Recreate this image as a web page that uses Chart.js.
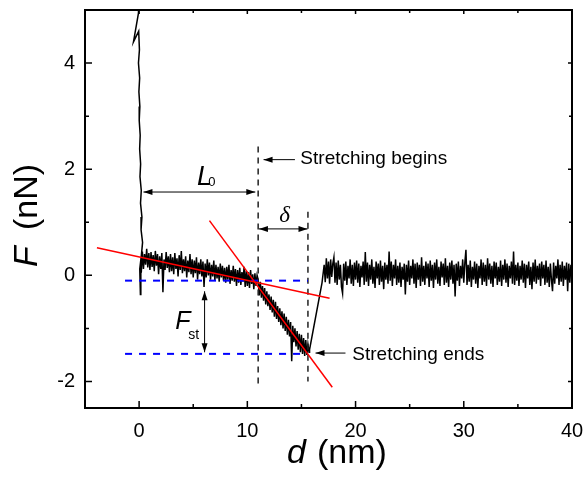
<!DOCTYPE html>
<html><head><meta charset="utf-8">
<script src="https://cdn.jsdelivr.net/npm/chart.js@4"></script>
<style>html,body{margin:0;padding:0;background:#fff}#wrap{width:587px;height:480px}</style>
</head><body><div id="wrap"><canvas id="c" width="587" height="480"></canvas></div>
<script>
// ---------- data (x: d in nm, y: F in nN) ----------
const xTickLabels = [0, 10, 20, 30, 40];
const xMinorTicks = [5, 15, 25, 35];
const yTickLabels = [-2, 0, 2, 4];
const yMinorTicks = [-1, 1, 3];

const riseCurve = [[0.00,5.40],[-0.06,4.94],[-0.52,4.40],[-0.04,4.60],[0.03,4.25],[-0.06,4.00],[0.05,3.72],[-0.02,3.46],[0.07,3.18],[0.01,2.92],[0.10,2.64],[0.05,2.38],[0.14,2.10],[0.08,1.86],[0.20,1.60],[0.13,1.36],[0.26,1.10],[0.18,0.86],[0.32,0.62],[0.22,0.40],[0.06,0.12],[0.12,-0.36],[0.16,0.20]];
const preStretch = [[0.2,0.05],[0.3,0.45],[0.4,0.12],[0.5,0.40],[0.6,0.20],[0.7,0.50],[0.8,0.15],[0.9,0.42],
[1.0,0.10],[1.1,0.44],[1.2,0.16],[1.3,0.38],[1.4,0.08],[1.5,0.46],[1.6,0.18],[1.7,0.40],[1.8,0.02],[1.9,0.36],
[2.0,0.12],[2.1,0.42],[2.2,-0.32],[2.3,0.30],[2.4,0.10],[2.5,0.44],[2.6,0.14],[2.7,0.36],[2.8,0.06],[2.9,0.40],
[3.0,0.08],[3.1,0.34],[3.2,0.02],[3.3,0.42],[3.4,0.12],[3.5,0.32],[3.6,-0.02],[3.7,0.38],[3.8,0.10],[3.9,0.46],
[4.0,0.04],[4.1,0.30],[4.2,0.08],[4.3,0.36],[4.4,-0.04],[4.5,0.28],[4.6,0.06],[4.7,0.40],[4.8,0.02],[4.9,0.30],
[5.0,-0.04],[5.1,0.28],[5.2,0.04],[5.3,0.34],[5.4,-0.08],[5.5,0.24],[5.6,0.02],[5.7,0.30],[5.8,-0.02],[5.9,0.26],
[6.0,-0.22],[6.1,0.22],[6.2,-0.04],[6.3,0.30],[6.4,0.00],[6.5,0.24],[6.6,-0.08],[6.7,0.20],[6.8,-0.02],[6.9,0.28],
[7.0,-0.10],[7.1,0.20],[7.2,-0.06],[7.3,0.16],[7.4,-0.12],[7.5,0.22],[7.6,-0.04],[7.7,0.18],[7.8,-0.10],[7.9,0.14],
[8.0,-0.14],[8.1,0.16],[8.2,-0.08],[8.3,0.20],[8.4,-0.16],[8.5,0.10],[8.6,-0.10],[8.7,0.18],[8.8,-0.12],[8.9,0.12],
[9.0,-0.20],[9.1,0.10],[9.2,-0.14],[9.3,0.14],[9.4,-0.18],[9.5,0.06],[9.6,-0.12],[9.7,0.16],[9.8,-0.22],[9.9,0.08],
[10.0,-0.20],[10.1,0.06],[10.2,-0.24],[10.3,0.10],[10.4,-0.16],[10.5,0.02],[10.6,-0.26],[10.7,0.04],[10.8,-0.20],[10.9,0.00]];
const stretchPart = [[11.0,-0.08],[11.1,-0.38],[11.2,-0.12],[11.3,-0.42],[11.4,-0.20],[11.5,-0.48],[11.6,-0.24],[11.7,-0.55],[11.8,-0.30],[11.9,-0.58],
[12.0,-0.36],[12.1,-0.65],[12.2,-0.40],[12.3,-0.70],[12.4,-0.46],[12.5,-0.78],[12.6,-0.50],[12.7,-0.82],[12.8,-0.58],[12.9,-0.88],
[13.0,-0.62],[13.1,-0.94],[13.2,-0.68],[13.3,-1.00],[13.4,-0.72],[13.5,-1.05],[13.6,-0.78],[13.7,-1.12],[13.8,-0.84],[13.9,-1.15],
[14.0,-0.88],[14.1,-1.62],[14.2,-0.95],[14.3,-1.26],[14.4,-1.00],[14.5,-1.34],[14.6,-1.05],[14.7,-1.40],[14.8,-1.10],[14.9,-1.45],
[15.0,-1.12],[15.1,-1.48],[15.2,-1.18],[15.3,-1.52],[15.4,-1.22],[15.5,-1.50],[15.6,-1.30],[15.7,-1.45]];
const releaseJump = [[15.75,-1.40],[16.9,-0.14]];
const postRelease = [[17.1,0.20],[17.2,-0.13],[17.3,0.32],[17.4,-0.06],[17.5,0.26],[17.6,-0.16],[17.7,0.30],[17.8,-0.03],[17.9,0.22],
[18.0,0.34],[18.1,-0.14],[18.2,0.24],[18.3,-0.18],[18.4,0.28],[18.5,-0.08],[18.6,0.20],[18.7,-0.22],[18.8,-0.34],[18.9,0.22],
[19.0,-0.10],[19.1,0.26],[19.2,-0.18],[19.3,0.18],[19.4,-0.06],[19.5,0.30],[19.6,-0.16],[19.7,0.20],[19.8,-0.20],[19.9,0.24],
[20.0,-0.08],[20.1,0.28],[20.2,-0.14],[20.3,0.22],[20.4,-0.22],[20.5,0.18],[20.6,-0.04],[20.7,0.26],[20.8,-0.18],[20.9,0.44],
[21.0,-0.12],[21.1,0.24],[21.2,-0.20],[21.3,0.20],[21.4,-0.08],[21.5,0.30],[21.6,-0.16],[21.7,0.16],[21.8,-0.24],[21.9,0.26],
[22.0,-0.06],[22.1,0.22],[22.2,-0.18],[22.3,0.28],[22.4,-0.12],[22.5,0.18],[22.6,-0.26],[22.7,0.24],[22.8,-0.08],[22.9,0.20],
[23.0,-0.16],[23.1,0.45],[23.2,-0.10],[23.3,0.26],[23.4,-0.20],[23.5,0.20],[23.6,-0.06],[23.7,0.30],[23.8,-0.18],[23.9,0.18],
[24.0,-0.14],[24.1,0.24],[24.2,-0.22],[24.3,0.16],[24.4,-0.08],[24.5,0.22],[24.6,-0.36],[24.7,0.20],[24.8,-0.12],[24.9,0.28],
[25.0,-0.18],[25.1,0.18],[25.2,-0.06],[25.3,0.30],[25.4,-0.16],[25.5,0.22],[25.6,-0.24],[25.7,0.24],[25.8,-0.08],[25.9,0.20],
[26.0,-0.20],[26.1,0.34],[26.2,-0.12],[26.3,0.18],[26.4,-0.18],[26.5,0.26],[26.6,-0.06],[26.7,0.22],[26.8,-0.22],[26.9,0.28],
[27.0,-0.10],[27.1,0.20],[27.2,-0.24],[27.3,0.24],[27.4,-0.08],[27.5,0.30],[27.6,-0.16],[27.7,0.16],[27.8,-0.20],[27.9,0.26],
[28.0,-0.04],[28.1,0.22],[28.2,-0.18],[28.3,0.32],[28.4,-0.14],[28.5,0.18],[28.6,-0.22],[28.7,0.24],[28.8,-0.08],[28.9,0.28],
[29.0,-0.16],[29.1,0.20],[29.2,-0.40],[29.3,0.22],[29.4,-0.10],[29.5,0.26],[29.6,-0.20],[29.7,0.18],[29.8,-0.06],[29.9,0.30],
[30.0,-0.14],[30.1,0.24],[30.2,0.48],[30.3,-0.18],[30.4,0.20],[30.5,-0.12],[30.6,0.28],[30.7,-0.22],[30.8,0.16],[30.9,-0.08],
[31.0,0.26],[31.1,-0.16],[31.2,0.22],[31.3,-0.24],[31.4,0.18],[31.5,-0.06],[31.6,0.30],[31.7,-0.18],[31.8,0.24],[31.9,-0.12],
[32.0,0.20],[32.1,-0.20],[32.2,0.32],[32.3,-0.08],[32.4,0.22],[32.5,-0.16],[32.6,0.18],[32.7,-0.22],[32.8,0.26],[32.9,-0.06],
[33.0,0.24],[33.1,-0.18],[33.2,0.16],[33.3,-0.12],[33.4,0.28],[33.5,-0.20],[33.6,0.20],[33.7,-0.08],[33.8,0.30],[33.9,-0.14],
[34.0,0.22],[34.1,-0.22],[34.2,0.18],[34.3,-0.06],[34.4,0.26],[34.5,-0.16],[34.6,0.45],[34.7,-0.18],[34.8,0.20],[34.9,-0.10],
[35.0,0.24],[35.1,-0.20],[35.2,0.18],[35.3,-0.08],[35.4,0.28],[35.5,-0.14],[35.6,0.22],[35.7,-0.24],[35.8,0.20],[35.9,-0.06],
[36.0,0.26],[36.1,-0.18],[36.2,0.16],[36.3,-0.26],[36.4,0.24],[36.5,-0.12],[36.6,0.30],[36.7,-0.16],[36.8,0.18],[36.9,-0.08],
[37.0,0.22],[37.1,-0.20],[37.2,0.26],[37.3,-0.06],[37.4,0.20],[37.5,-0.18],[37.6,0.28],[37.7,-0.14],[37.8,0.16],[37.9,-0.22],
[38.0,0.22],[38.1,-0.08],[38.2,-0.30],[38.3,0.24],[38.4,-0.16],[38.5,0.18],[38.6,-0.06],[38.7,0.30],[38.8,-0.18],[38.9,0.20],
[39.0,-0.12],[39.1,0.26],[39.2,-0.20],[39.3,0.18],[39.4,-0.08],[39.5,0.24],[39.6,-0.30],[39.7,0.22],[39.8,-0.14],[39.9,0.20],[40.0,0.00]];

// fitted lines and guide lines (data coordinates)
const fitBaseline = [[-3.9,0.52],[17.6,-0.43]];
const fitStretch = [[6.5,1.03],[17.85,-2.11]];
const levelStart = [[-1.3,-0.10],[15.6,-0.10]];
const levelEnd = [[-1.3,-1.48],[15.6,-1.48]];
const markBegin = [[11.0,2.43],[11.0,-2.06]];
const markEnd = [[15.6,1.20],[15.6,-2.00]];

// arrows: [x1,y1,x2,y2, doubleHeaded]
const arrowList = [
  [14.4,2.18,11.5,2.18,false],
  [19.07,-1.465,16.3,-1.465,false],
  [0.4,1.57,10.74,1.57,true],
  [11.07,0.875,15.56,0.875,true],
  [6.05,-0.30,6.05,-1.45,true]
];
const noteBegin = {text:'Stretching begins', x:14.9, y:2.09};
const noteEnd = {text:'Stretching ends', x:19.7, y:-1.60};

const toPts = a => a.map(p => ({x:p[0], y:p[1]}));
const traceData = toPts([].concat(riseCurve, preStretch, stretchPart, releaseJump, postRelease));

const SANS = '"Liberation Sans", Arial, Helvetica, sans-serif';
const SERIF = '"Liberation Serif", "Times New Roman", serif';

function head(ctx, x1, y1, x2, y2) {
  const ang = Math.atan2(y2 - y1, x2 - x1), L = 9, W = 3;
  ctx.beginPath();
  ctx.moveTo(x2, y2);
  ctx.lineTo(x2 - L*Math.cos(ang) + W*Math.sin(ang), y2 - L*Math.sin(ang) - W*Math.cos(ang));
  ctx.lineTo(x2 - L*Math.cos(ang) - W*Math.sin(ang), y2 - L*Math.sin(ang) + W*Math.cos(ang));
  ctx.closePath();
  ctx.fill();
}

const decor = {
  id: 'decor',
  afterDatasetsDraw(chart) {
    const {ctx, chartArea: a, scales: {x, y}} = chart;
    const px = v => x.getPixelForValue(v), py = v => y.getPixelForValue(v);
    ctx.save();
    ctx.strokeStyle = '#000'; ctx.fillStyle = '#000';
    ctx.lineWidth = 2;
    ctx.strokeRect(a.left, a.top, a.right - a.left, a.bottom - a.top);
    ctx.lineWidth = 1.5;
    ctx.beginPath();
    xTickLabels.forEach(v => { const p = px(v); ctx.moveTo(p, a.bottom); ctx.lineTo(p, a.bottom - 7); ctx.moveTo(p, a.top); ctx.lineTo(p, a.top + 4); });
    xMinorTicks.forEach(v => { const p = px(v); ctx.moveTo(p, a.bottom); ctx.lineTo(p, a.bottom - 4); ctx.moveTo(p, a.top); ctx.lineTo(p, a.top + 3); });
    yTickLabels.forEach(v => { const p = py(v); ctx.moveTo(a.left, p); ctx.lineTo(a.left + 7, p); ctx.moveTo(a.right, p); ctx.lineTo(a.right - 4, p); });
    yMinorTicks.forEach(v => { const p = py(v); ctx.moveTo(a.left, p); ctx.lineTo(a.left + 4, p); ctx.moveTo(a.right, p); ctx.lineTo(a.right - 3, p); });
    ctx.stroke();
    ctx.lineWidth = 1;
    arrowList.forEach(r => {
      const x1 = px(r[0]), y1 = py(r[1]), x2 = px(r[2]), y2 = py(r[3]);
      ctx.beginPath(); ctx.moveTo(x1, y1); ctx.lineTo(x2, y2); ctx.stroke();
      head(ctx, x1, y1, x2, y2);
      if (r[4]) head(ctx, x2, y2, x1, y1);
    });
    ctx.textAlign = 'left'; ctx.textBaseline = 'alphabetic';
    ctx.font = '19px ' + SANS;
    ctx.fillText(noteBegin.text, px(noteBegin.x), py(noteBegin.y));
    ctx.fillText(noteEnd.text, px(noteEnd.x), py(noteEnd.y));
    ctx.font = 'italic 27px ' + SANS;
    ctx.fillText('L', px(5.34), py(1.71));
    ctx.font = '13px ' + SANS;
    ctx.fillText('0', px(6.39), py(1.69));
    ctx.font = 'italic 23px ' + SERIF;
    ctx.fillText('\u03B4', px(12.96), py(1.01));
    ctx.font = 'italic 25px ' + SANS;
    ctx.fillText('F', px(3.33), py(-1.02));
    ctx.font = '14px ' + SANS;
    ctx.fillText('st', px(4.54), py(-1.20));
    ctx.font = 'italic 34px ' + SANS;
    ctx.fillText('d', a.left + 202, a.bottom + 55);
    ctx.font = '34px ' + SANS;
    ctx.fillText('(nm)', a.left + 232, a.bottom + 55);
    ctx.translate(a.left - 48, a.top + 257);
    ctx.rotate(-Math.PI / 2);
    ctx.font = 'italic 34px ' + SANS;
    ctx.fillText('F', 0, 0);
    ctx.font = '34px ' + SANS;
    ctx.fillText('(nN)', 37, 0);
    ctx.restore();
  }
};

const line = (data, color, width, dash) => ({
  data: toPts(data), showLine: true, borderColor: color, borderWidth: width,
  borderDash: dash || [], pointRadius: 0, fill: false, tension: 0
});

new Chart(document.getElementById('c'), {
  type: 'scatter',
  data: {
    datasets: [
      line(fitBaseline, '#ff0000', 1.5),
      line(fitStretch, '#ff0000', 1.5),
      line(levelStart, '#0000ff', 2, [7, 7]),
      line(levelEnd, '#0000ff', 2, [7, 7]),
      line(markBegin, '#222222', 1.5, [6, 5]),
      line(markEnd, '#222222', 1.5, [6, 5]),
      {data: traceData, showLine: true, borderColor: '#000', borderWidth: 1.5, pointRadius: 0, fill: false, tension: 0}
    ]
  },
  options: {
    responsive: false, animation: false, devicePixelRatio: 1,
    layout: {padding: {top: 10, right: 15, left: 0, bottom: 0}},
    plugins: {legend: {display: false}, tooltip: {enabled: false}},
    scales: {
      x: {
        type: 'linear', min: -5, max: 40,
        afterFit: s => { s.height = 72; s.paddingLeft = 0; s.paddingRight = 0; },
        grid: {display: false, drawTicks: false},
        border: {display: false},
        ticks: {stepSize: 5, padding: 11, color: '#000', font: {family: SANS, size: 20},
          maxRotation: 0, autoSkip: false,
          callback: v => xTickLabels.includes(v) ? String(v) : ''}
      },
      y: {
        type: 'linear', min: -2.5, max: 5,
        afterFit: s => { s.width = 85; s.paddingTop = 0; s.paddingBottom = 0; },
        grid: {display: false, drawTicks: false},
        border: {display: false},
        ticks: {stepSize: 1, padding: 10, color: '#000', font: {family: SANS, size: 20},
          autoSkip: false,
          callback: v => yTickLabels.includes(v) ? String(v) : ''}
      }
    }
  },
  plugins: [decor]
});
</script>
</body></html>
